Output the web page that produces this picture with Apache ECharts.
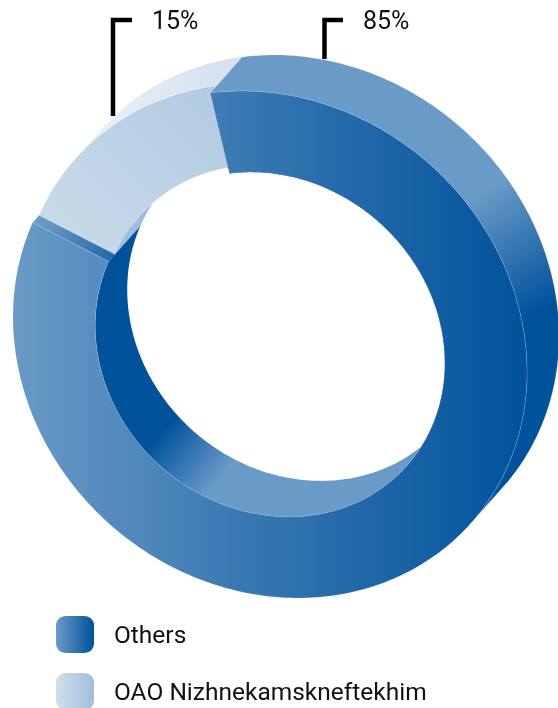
<!DOCTYPE html>
<html>
<head>
<meta charset="utf-8">
<style>html,body{margin:0;padding:0;background:#fff}#chart{width:558px;height:708px}</style>
<script src="https://cdn.jsdelivr.net/npm/echarts@6/dist/echarts.min.js"></script>
</head>
<body>
<div id="chart"></div>
<script>
// Shares of the ring, in percent
const categories = ['Others', 'OAO Nizhnekamskneftekhim'];
const shares = [85, 15];
const topEdgeDeg = -7.2; // where the larger share begins, clockwise from twelve o'clock

// Sheared ring projection
const cx = 270, cy = 344.5, rx = 255.5, ry = 253.5, shear = 28;
const holeScale = 0.68;
const depth = { x: 32, y: -36 };
const recess = 0.2; // the smaller share sits slightly behind the front plane
const silhouetteDeg = 134; // tangent of the extrusion direction, lower right

const total = shares[0] + shares[1];
const sweepOf = v => v / total * 360;

function pt(deg, scale, d) {
  const a = deg * Math.PI / 180, u = Math.sin(a), v = -Math.cos(a);
  return [cx + scale * (rx * u + shear * v) + depth.x * d, cy + scale * ry * v + depth.y * d];
}
function arc(from, to, scale, d) {
  const n = Math.max(2, Math.ceil(Math.abs(to - from))), out = [];
  for (let i = 0; i <= n; i++) out.push(pt(from + (to - from) * i / n, scale, d));
  return out;
}
// Flat annular sector on one depth plane
const face = (a, b, d) => arc(a, b, 1, d).concat(arc(b, a, holeScale, d));
// Band swept between two depth planes at one radius
const band = (a, b, scale, d0, d1) => arc(a, b, scale, d1).concat(arc(b, a, scale, d0));

const LG = echarts.graphic.LinearGradient;
const grad = (x0, y0, x1, y1, c0, c1, mid) => new LG(x0, y0, x1, y1,
  mid ? [{ offset: 0, color: c0 }, { offset: mid[0], color: mid[1] }, { offset: 1, color: c1 }]
      : [{ offset: 0, color: c0 }, { offset: 1, color: c1 }], true);

const blueLight = '#6a9ac7', blueDark = '#00529b';
const fills = {
  othersFace: grad(13, 0, 527, 0, blueLight, blueDark, [0.42, '#3b7ab3']),
  othersOuter: grad(480, 195, 550, 304, blueLight, blueDark),
  othersInner: grad(157, 437, 215, 485, blueDark, blueLight),
  othersCut: grad(35, 220, 112, 262, '#6f9fca', '#2567a7'),
  minorFace: grad(215, 95, 60, 250, '#b3cbe2', '#c9dbea'),
  minorOuter: grad(100, 130, 243, 60, '#e9f0f7', '#d2e0ee'),
  minorInner: grad(120, 250, 160, 197, '#a3bfdc', '#9cbbd9')
};
const poly = (points, fill, stroke) => ({
  type: 'polygon',
  shape: { points },
  style: { fill, stroke: stroke || null, lineWidth: stroke ? 0.7 : 0 },
  silent: true
});

// Hole wall and cut end of the larger share, behind everything else
function renderOthersBack(params, api) {
  const start = topEdgeDeg, end = start + sweepOf(api.value(0));
  return { type: 'group', children: [
    poly(band(start, end, holeScale, 0, 1), fills.othersInner),
    poly([pt(end, 1, 0), pt(end, holeScale, 0), pt(end, holeScale, 1), pt(end, 1, 1)], fills.othersCut)
  ]};
}
// The smaller share: walls and recessed face
function renderMinor(params, api) {
  const end = topEdgeDeg, start = end - sweepOf(api.value(0));
  return { type: 'group', children: [
    poly(band(start, end, holeScale, recess, 1), fills.minorInner),
    poly(band(silhouetteDeg - 180, end, 1, recess, 1), fills.minorOuter),
    poly(face(start, end, recess), fills.minorFace, 'rgba(255,255,255,0.4)')
  ]};
}
// Outer wall and front face of the larger share, on top
function renderOthersFront(params, api) {
  const start = topEdgeDeg, end = start + sweepOf(api.value(0));
  return { type: 'group', children: [
    poly(band(start, silhouetteDeg, 1, 0, 1), fills.othersOuter, 'rgba(255,255,255,0.2)'),
    poly(face(start, end, 0), fills.othersFace, 'rgba(255,255,255,0.22)')
  ]};
}

const legendFills = [
  new LG(0, 0, 1, 0, [{ offset: 0, color: blueLight }, { offset: 1, color: blueDark }]),
  new LG(0, 0, 1, 0, [{ offset: 0, color: '#cfdfed' }, { offset: 1, color: '#a0bedb' }])
];
const labelFont = 'Roboto';

// Leader with its percentage label
function leader(points, text, x, y) {
  return [
    { type: 'polyline', shape: { points }, style: { stroke: '#000', lineWidth: 4.5, fill: null, lineJoin: 'miter' }, silent: true },
    { type: 'text', x, y, style: { text, fontFamily: labelFont, fontSize: 25, fill: '#111', textVerticalAlign: 'middle' }, silent: true }
  ];
}

const chart = echarts.init(document.getElementById('chart'), null, { renderer: 'canvas' });
chart.setOption({
  animation: false,
  backgroundColor: '#fff',
  legend: {
    data: categories.map((name, i) => ({ name, icon: 'roundRect', itemStyle: { color: legendFills[i] } })),
    orient: 'vertical', left: 56, top: 616, height: 130,
    itemWidth: 38, itemHeight: 37, itemGap: 20, selectedMode: false,
    padding: 0,
    formatter: name => '{t|' + name + '}',
    textStyle: {
      rich: { t: { fontFamily: labelFont, fontSize: 24.5, color: '#111', padding: [4, 0, 0, 15] } }
    }
  },
  graphic: [
    ...leader([[113, 116], [113, 20], [132, 20]], shares[1] + '%', 152, 22.5),
    ...leader([[324.5, 59], [324.5, 20], [343, 20]], shares[0] + '%', 363, 22.5)
  ],
  series: [
    { type: 'custom', name: categories[0], coordinateSystem: 'none', renderItem: renderOthersBack, data: [[shares[0]]], z: 1, silent: true },
    { type: 'custom', name: categories[1], coordinateSystem: 'none', renderItem: renderMinor, data: [[shares[1]]], z: 2, silent: true },
    { type: 'custom', name: categories[0], coordinateSystem: 'none', renderItem: renderOthersFront, data: [[shares[0]]], z: 3, silent: true }
  ]
});
</script>
</body>
</html>
